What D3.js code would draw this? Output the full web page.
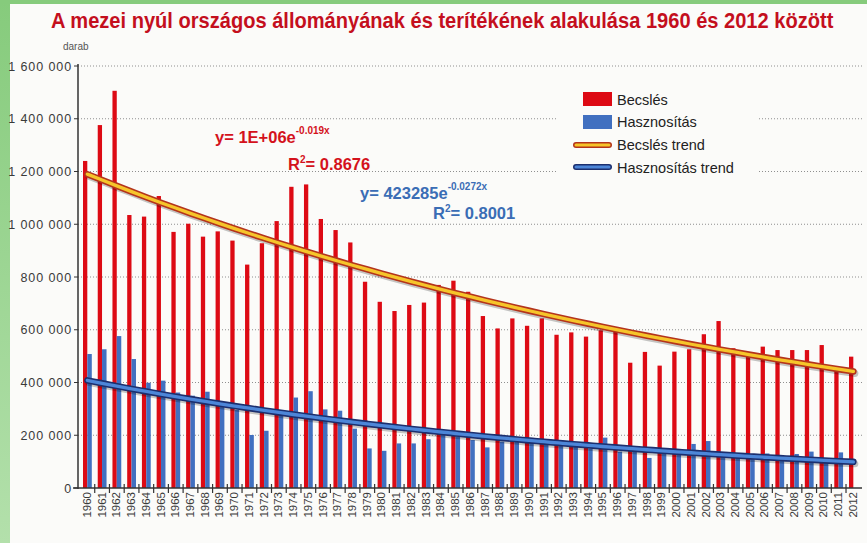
<!DOCTYPE html>
<html>
<head>
<meta charset="utf-8">
<script src="https://cdn.jsdelivr.net/npm/d3@7"></script>
<style>
  body { margin: 0; background: #fbfbf9; }
  svg { display: block; }
  .tick-y { font-family: "Liberation Sans", Arial, sans-serif; font-size: 12.5px; fill: #3a3a3a; letter-spacing: 0.9px; }
  .tick-x { font-family: "Liberation Sans", Arial, sans-serif; font-size: 11.5px; fill: #3a3a3a; }
  .legend { font-family: "Liberation Sans", Arial, sans-serif; font-size: 14.5px; fill: #222; }
</style>
</head>
<body>
<svg width="867" height="543"></svg>
<script>
// years on x axis
var years = d3.range(1960, 2013);

// Becslés (estimated stock), darab
var becsles = [1240000, 1376000, 1506000, 1035000, 1029000, 1107000, 971000, 1002000, 953000, 973000,
  938000, 847000, 928000, 1012000, 1142000, 1151000, 1020000, 978000, 931000, 782000,
  706000, 671000, 694000, 703000, 770000, 786000, 744000, 652000, 605000, 643000,
  615000, 643000, 581000, 590000, 574000, 598000, 593000, 475000, 516000, 464000,
  517000, 526000, 583000, 633000, 530000, 504000, 536000, 523000, 523000, 523000,
  542000, 450000, 498000];

// Hasznosítás (harvest), darab
var hasznositas = [508000, 526000, 576000, 489000, 399000, 407000, 362000, 350000, 365000, 315000,
  296000, 201000, 217000, 278000, 343000, 367000, 298000, 293000, 225000, 150000,
  141000, 169000, 169000, 185000, 205000, 195000, 182000, 154000, 176000, 176000,
  190000, 169000, 163000, 157000, 150000, 191000, 138000, 138000, 114000, 131000,
  131000, 167000, 178000, 119000, 125000, 119000, 131000, 119000, 129000, 138000,
  113000, 135000, null];

var yTicks = [0, 200000, 400000, 600000, 800000, 1000000, 1200000, 1400000, 1600000];

var svg = d3.select("svg");

// green page edge
var grad = svg.append("defs").append("linearGradient")
  .attr("id", "edge").attr("x1", 0).attr("y1", 0).attr("x2", 0).attr("y2", 1);
grad.append("stop").attr("offset", "0%").attr("stop-color", "#86cb7c");
grad.append("stop").attr("offset", "100%").attr("stop-color", "#b3e0ab");
svg.append("rect").attr("x", 0).attr("y", 0).attr("width", 10).attr("height", 543).attr("fill", "url(#edge)");
svg.append("rect").attr("x", 0).attr("y", 0).attr("width", 867).attr("height", 4).attr("fill", "#86cb7c");

// title, squeezed horizontally to look condensed
var title = svg.append("text")
  .style("font-family", "'Liberation Sans', Arial, sans-serif")
  .style("font-weight", "bold").style("font-size", "22px").style("fill", "#c40f1d")
  .text("A mezei nyúl országos állományának és terítékének alakulása 1960 és 2012 között");
var tw = title.node().getComputedTextLength();
title.attr("transform", "translate(51,28) scale(" + (783 / tw) + ",1)");

svg.append("text")
  .attr("x", 63).attr("y", 50)
  .style("font-family", "'Liberation Sans', Arial, sans-serif").style("font-size", "10px").style("fill", "#555")
  .text("darab");

// scales
var x = d3.scaleBand().domain(years).range([80, 860.75]);
var y = d3.scaleLinear().domain([0, 1600000]).range([488, 66]);

// gridlines
svg.append("g").selectAll("line")
  .data(yTicks.slice(1))
  .join("line")
  .attr("x1", 78).attr("x2", 862)
  .attr("y1", function(d) { return y(d); }).attr("y2", function(d) { return y(d); })
  .attr("stroke", "#8f8f8f").attr("stroke-width", 1).attr("stroke-dasharray", "1,2");

// bars
svg.append("g").selectAll("rect")
  .data(years)
  .join("rect")
  .attr("x", function(d) { return x(d) + 3; })
  .attr("width", 4.3)
  .attr("y", function(d, i) { return y(becsles[i]); })
  .attr("height", function(d, i) { return y(0) - y(becsles[i]); })
  .attr("fill", "#dd0a14");

svg.append("g").selectAll("rect")
  .data(years.filter(function(d, i) { return hasznositas[i] != null; }))
  .join("rect")
  .attr("x", function(d) { return x(d) + 7.3; })
  .attr("width", 4.5)
  .attr("y", function(d) { return y(hasznositas[d - 1960]); })
  .attr("height", function(d) { return y(0) - y(hasznositas[d - 1960]); })
  .attr("fill", "#4170c0");

// exponential trend fitted from the data (log-linear least squares)
function expFit(vals) {
  var pts = [];
  vals.forEach(function(v, i) { if (v != null) pts.push([i + 1, Math.log(v)]); });
  var mx = d3.mean(pts, function(p) { return p[0]; }),
      my = d3.mean(pts, function(p) { return p[1]; });
  var b = d3.sum(pts, function(p) { return (p[0] - mx) * (p[1] - my); }) /
          d3.sum(pts, function(p) { return (p[0] - mx) * (p[0] - mx); });
  var a = Math.exp(my - b * mx);
  return years.map(function(yr, i) { return [yr, a * Math.exp(b * (i + 1))]; });
}

var trendLine = d3.line()
  .x(function(d) { return x(d[0]) + x.bandwidth() / 2; })
  .y(function(d) { return y(d[1]); })
  .curve(d3.curveMonotoneX);

function drawTrend(data, outer, inner) {
  svg.append("path").datum(data).attr("d", trendLine)
    .attr("fill", "none").attr("stroke", "#000").attr("stroke-opacity", 0.22)
    .attr("stroke-width", 7).attr("stroke-linecap", "round")
    .attr("transform", "translate(1.5,2)");
  svg.append("path").datum(data).attr("d", trendLine)
    .attr("fill", "none").attr("stroke", outer).attr("stroke-width", 6.5).attr("stroke-linecap", "round");
  svg.append("path").datum(data).attr("d", trendLine)
    .attr("fill", "none").attr("stroke", inner).attr("stroke-width", 3.3).attr("stroke-linecap", "round");
}

drawTrend(expFit(becsles), "#b4341c", "#f6c52a");
drawTrend(expFit(hasznositas), "#1c2f6e", "#4d86d8");

// axes
svg.append("line").attr("x1", 78).attr("x2", 78).attr("y1", 64).attr("y2", 489)
  .attr("stroke", "#333").attr("stroke-width", 1.5);
svg.append("line").attr("x1", 73).attr("x2", 862).attr("y1", 488).attr("y2", 488)
  .attr("stroke", "#333").attr("stroke-width", 1.5);

var yAxis = svg.append("g");
yAxis.selectAll("line").data(yTicks).join("line")
  .attr("x1", 74).attr("x2", 78)
  .attr("y1", function(d) { return y(d); }).attr("y2", function(d) { return y(d); })
  .attr("stroke", "#333");
yAxis.selectAll("text").data(yTicks).join("text")
  .attr("class", "tick-y")
  .attr("x", 72).attr("y", function(d) { return y(d) + 4.5; })
  .attr("text-anchor", "end")
  .text(function(d) { return d3.format(",")(d).replace(/,/g, " "); });

var xAxis = svg.append("g");
xAxis.selectAll("line").data(years.slice(1)).join("line")
  .attr("x1", function(d) { return x(d); }).attr("x2", function(d) { return x(d); })
  .attr("y1", 484).attr("y2", 493)
  .attr("stroke", "#333").attr("stroke-width", 1.2);
xAxis.selectAll("text").data(years).join("text")
  .attr("class", "tick-x")
  .attr("transform", function(d) { return "translate(" + (x(d) + x.bandwidth() / 2 + 3.5) + ",492) rotate(-90)"; })
  .attr("text-anchor", "end")
  .text(function(d) { return d; });

// legend
var lg = svg.append("g");
lg.append("rect").attr("x", 557).attr("y", 84).attr("width", 200).attr("height", 96).attr("fill", "#fbfbf9");
lg.append("rect").attr("x", 583).attr("y", 92).attr("width", 29).attr("height", 14).attr("fill", "#dd0a14");
lg.append("rect").attr("x", 583).attr("y", 115).attr("width", 29).attr("height", 14).attr("fill", "#4170c0");
lg.append("line").attr("x1", 576).attr("x2", 609).attr("y1", 145).attr("y2", 145)
  .attr("stroke", "#b4341c").attr("stroke-width", 6).attr("stroke-linecap", "round");
lg.append("line").attr("x1", 576).attr("x2", 609).attr("y1", 145).attr("y2", 145)
  .attr("stroke", "#f6c52a").attr("stroke-width", 3).attr("stroke-linecap", "round");
lg.append("line").attr("x1", 576).attr("x2", 609).attr("y1", 167).attr("y2", 167)
  .attr("stroke", "#1c2f6e").attr("stroke-width", 6).attr("stroke-linecap", "round");
lg.append("line").attr("x1", 576).attr("x2", 609).attr("y1", 167).attr("y2", 167)
  .attr("stroke", "#4d86d8").attr("stroke-width", 3).attr("stroke-linecap", "round");
var labels = ["Becslés", "Hasznosítás", "Becslés trend", "Hasznosítás trend"];
lg.selectAll("text.legend").data(labels).join("text")
  .attr("class", "legend")
  .attr("x", 617).attr("y", function(d, i) { return 104.5 + i * 22.7; })
  .text(function(d) { return d; });

// equations
function equation(xp, yp, main, sup, color) {
  var t = svg.append("text").attr("x", xp).attr("y", yp)
    .style("font-family", "'Liberation Sans', Arial, sans-serif").style("font-weight", "bold")
    .style("font-size", "16.5px").style("fill", color);
  t.append("tspan").text(main);
  t.append("tspan").attr("dy", -9).style("font-size", "10px").text(sup);
}
function rsq(xp, yp, val, color) {
  var t = svg.append("text").attr("x", xp).attr("y", yp)
    .style("font-family", "'Liberation Sans', Arial, sans-serif").style("font-weight", "bold")
    .style("font-size", "16.5px").style("fill", color);
  t.append("tspan").text("R");
  t.append("tspan").attr("dy", -7).style("font-size", "10px").text("2");
  t.append("tspan").attr("dy", 7).text("= " + val);
}
equation(215, 143, "y= 1E+06e", "-0.019x", "#d4121c");
rsq(288, 170, "0.8676", "#d4121c");
equation(360, 199, "y= 423285e", "-0.0272x", "#3a6db5");
rsq(433, 219, "0.8001", "#3a6db5");
</script>
</body>
</html>
